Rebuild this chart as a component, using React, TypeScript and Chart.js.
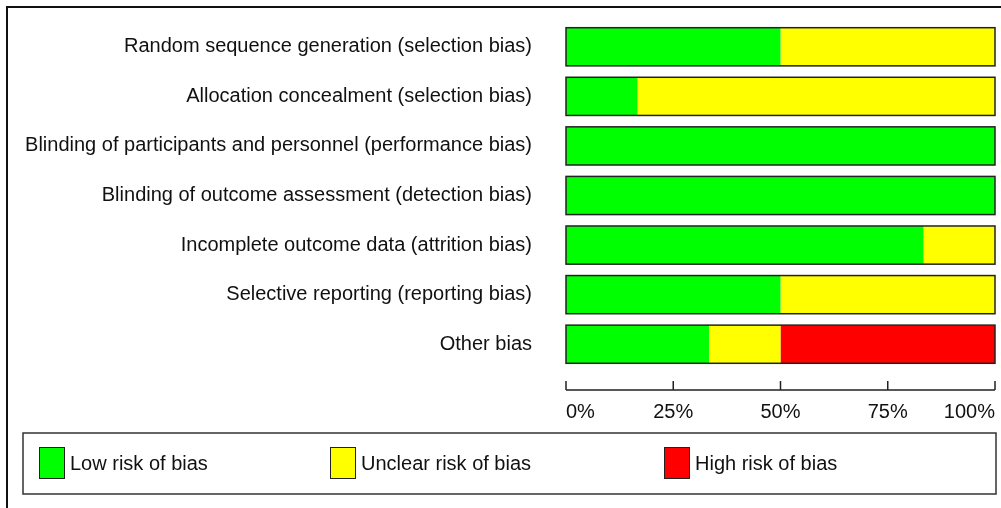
import React, { useEffect, useRef } from "react";
import { Chart, registerables } from "chart.js";

Chart.register(...registerables);

const categories: string[] = [
  "Random sequence generation (selection bias)",
  "Allocation concealment (selection bias)",
  "Blinding of participants and personnel (performance bias)",
  "Blinding of outcome assessment (detection bias)",
  "Incomplete outcome data (attrition bias)",
  "Selective reporting (reporting bias)",
  "Other bias",
];

const lowRisk: number[] = [50, 16.67, 100, 100, 83.33, 50, 33.33];
const unclearRisk: number[] = [50, 83.33, 0, 0, 16.67, 50, 16.67];
const highRisk: number[] = [0, 0, 0, 0, 0, 0, 50];

const seriesNames: string[] = ["Low risk of bias", "Unclear risk of bias", "High risk of bias"];
const seriesColors: string[] = ["#00ff00", "#ffff00", "#ff0000"];

const xTickValues: number[] = [0, 25, 50, 75, 100];
const xTickLabels: string[] = ["0%", "25%", "50%", "75%", "100%"];

const FONT = "'Liberation Sans', Arial, sans-serif";

const zeroPad = (s: any) => {
  s.paddingTop = 0;
  s.paddingBottom = 0;
  s.paddingLeft = 0;
  s.paddingRight = 0;
};

const decorPlugin = {
  id: "decor",
  beforeDraw(chart: any) {
    const ctx = chart.ctx;
    ctx.save();
    ctx.fillStyle = "#ffffff";
    ctx.fillRect(0, 0, chart.width, chart.height);
    ctx.strokeStyle = "#111";
    ctx.lineWidth = 2;
    ctx.beginPath();
    ctx.moveTo(7, chart.height + 2);
    ctx.lineTo(7, 7);
    ctx.lineTo(chart.width + 2, 7);
    ctx.stroke();
    ctx.restore();
  },
  afterDatasetsDraw(chart: any) {
    const ctx = chart.ctx;
    const x = chart.scales.x;
    const meta = chart.getDatasetMeta(0);
    const x0 = x.getPixelForValue(0);
    const x1 = x.getPixelForValue(100);
    ctx.save();
    ctx.strokeStyle = "#222";
    ctx.lineWidth = 1.5;
    meta.data.forEach((bar: any) => {
      const h = bar.height;
      ctx.strokeRect(x0, bar.y - h / 2, x1 - x0, h);
    });
    const axisY = chart.chartArea.bottom + 21;
    ctx.beginPath();
    ctx.moveTo(x0, axisY);
    ctx.lineTo(x1, axisY);
    xTickValues.forEach((v) => {
      const px = x.getPixelForValue(v);
      ctx.moveTo(px, axisY);
      ctx.lineTo(px, axisY - 9);
    });
    ctx.stroke();

    ctx.strokeStyle = "#333";
    ctx.lineWidth = 1.5;
    ctx.strokeRect(23, 433, 973, 61);
    const swatchX = [39, 330, 664];
    ctx.font = `20px ${FONT}`;
    ctx.textBaseline = "middle";
    ctx.textAlign = "left";
    chart.data.datasets.forEach((ds: any, i: number) => {
      ctx.fillStyle = ds.backgroundColor;
      ctx.fillRect(swatchX[i], 447, 26, 32);
      ctx.strokeStyle = "#222";
      ctx.lineWidth = 1;
      ctx.strokeRect(swatchX[i] + 0.5, 447.5, 25, 31);
      ctx.fillStyle = "#111";
      ctx.fillText(ds.label, swatchX[i] + 31, 464);
    });
    ctx.restore();
  },
};

export default function App() {
  const ref = useRef<HTMLCanvasElement | null>(null);
  useEffect(() => {
    if (!ref.current) return;
    const chart = new Chart(ref.current, {
      type: "bar",
      data: {
        labels: categories,
        datasets: [lowRisk, unclearRisk, highRisk].map((d, i) => ({
          label: seriesNames[i],
          data: d,
          backgroundColor: seriesColors[i],
          borderWidth: 0,
          barPercentage: 0.77,
          categoryPercentage: 1,
        })),
      },
      options: {
        indexAxis: "y",
        animation: false,
        responsive: false,
        devicePixelRatio: 1,
        layout: { padding: { top: 22, right: 6, left: 0, bottom: 0 } },
        plugins: { legend: { display: false }, tooltip: { enabled: false } },
        scales: {
          x: {
            stacked: true,
            min: 0,
            max: 100,
            afterFit: (s: any) => {
              s.height = 508 - 369;
              zeroPad(s);
            },
            afterBuildTicks: (s: any) => {
              s.ticks = xTickValues.map((v) => ({ value: v }));
            },
            grid: { display: false, drawTicks: false },
            border: { display: false },
            ticks: {
              align: "inner",
              padding: 31,
              color: "#111",
              font: { family: FONT, size: 20 },
              callback: (v: any) => xTickLabels[xTickValues.indexOf(Number(v))] ?? "",
            },
          },
          y: {
            stacked: true,
            afterFit: (s: any) => {
              s.width = 566;
              zeroPad(s);
            },
            grid: { display: false, drawTicks: false },
            border: { display: false },
            ticks: {
              padding: 34,
              color: "#111",
              font: { family: FONT, size: 20 },
            },
          },
        },
      },
      plugins: [decorPlugin],
    });
    return () => chart.destroy();
  }, []);
  return (
    <div style={{ position: "absolute", left: 0, top: 0, width: 1001, height: 508 }}>
      <canvas ref={ref} width={1001} height={508} style={{ display: "block" }} />
    </div>
  );
}
